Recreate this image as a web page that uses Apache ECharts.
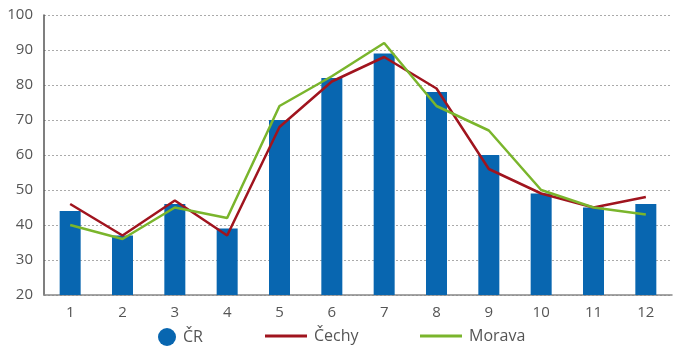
<!DOCTYPE html>
<html lang="cs">
  <head>
    <meta charset="UTF-8" />
    <title>ČR, Čechy, Morava</title>
    <script src="https://cdn.jsdelivr.net/npm/echarts@6.0.0/dist/echarts.min.js"></script>
    <style>
      html, body { margin: 0; padding: 0; background: #fff; }
      #main { width: 678px; height: 354px; }
    </style>
  </head>
  <body>
    <div id="main"></div>
    <script>
      var categories = ["1", "2", "3", "4", "5", "6", "7", "8", "9", "10", "11", "12"];
      var cr = [44, 37, 46, 39, 70, 82, 89, 78, 60, 49, 45, 46];
      var cechy = [46, 37, 47, 37, 68, 81, 88, 79, 56, 49, 45, 48];
      var morava = [40, 36, 45, 42, 74, 82.5, 92, 74, 67, 50, 45, 43];

      var textColor = "#555";
      var font = "'Open Sans', sans-serif";

      var myChart = echarts.init(document.getElementById("main"));

      var legendText = { color: textColor, fontSize: 16, fontFamily: font, padding: [0, 0, 0, 2] };

      myChart.setOption({
        animation: false,
        grid: { left: 44, right: 6, top: 15, bottom: 59 },
        legend: [
          {
            data: [{ name: "ČR", icon: "circle" }],
            left: 158, top: 328, padding: 0,
            itemWidth: 18, itemHeight: 18, itemGap: 0,
            textStyle: legendText
          },
          {
            data: [{ name: "Čechy", icon: "rect" }],
            left: 265, top: 328, padding: 0,
            itemWidth: 42, itemHeight: 3, itemGap: 0,
            textStyle: legendText
          },
          {
            data: [{ name: "Morava", icon: "rect" }],
            left: 420, top: 328, padding: 0,
            itemWidth: 42, itemHeight: 3, itemGap: 0,
            textStyle: legendText
          }
        ],
        xAxis: {
          type: "category",
          data: categories,
          axisLine: { lineStyle: { color: "#888", width: 1.5 } },
          axisTick: { show: false },
          axisLabel: { color: textColor, fontSize: 15, fontFamily: font, margin: 10 }
        },
        yAxis: {
          type: "value",
          min: 20, max: 100, interval: 10,
          axisLine: { show: true, lineStyle: { color: "#555", width: 1.5 } },
          axisTick: { show: false },
          axisLabel: { color: textColor, fontSize: 15, fontFamily: font, margin: 11 },
          splitLine: { lineStyle: { color: "#aaa", type: [2, 2], width: 1 } }
        },
        series: [
          {
            name: "ČR", type: "bar", data: cr,
            barWidth: 21,
            itemStyle: { color: "#0866b0" }
          },
          {
            name: "Čechy", type: "line", data: cechy,
            showSymbol: false, symbol: "none",
            lineStyle: { color: "#a0141e", width: 2.5 },
            itemStyle: { color: "#a0141e" }
          },
          {
            name: "Morava", type: "line", data: morava,
            showSymbol: false, symbol: "none",
            lineStyle: { color: "#7ab52c", width: 2.5 },
            itemStyle: { color: "#7ab52c" }
          }
        ]
      });
    </script>
  </body>
</html>
